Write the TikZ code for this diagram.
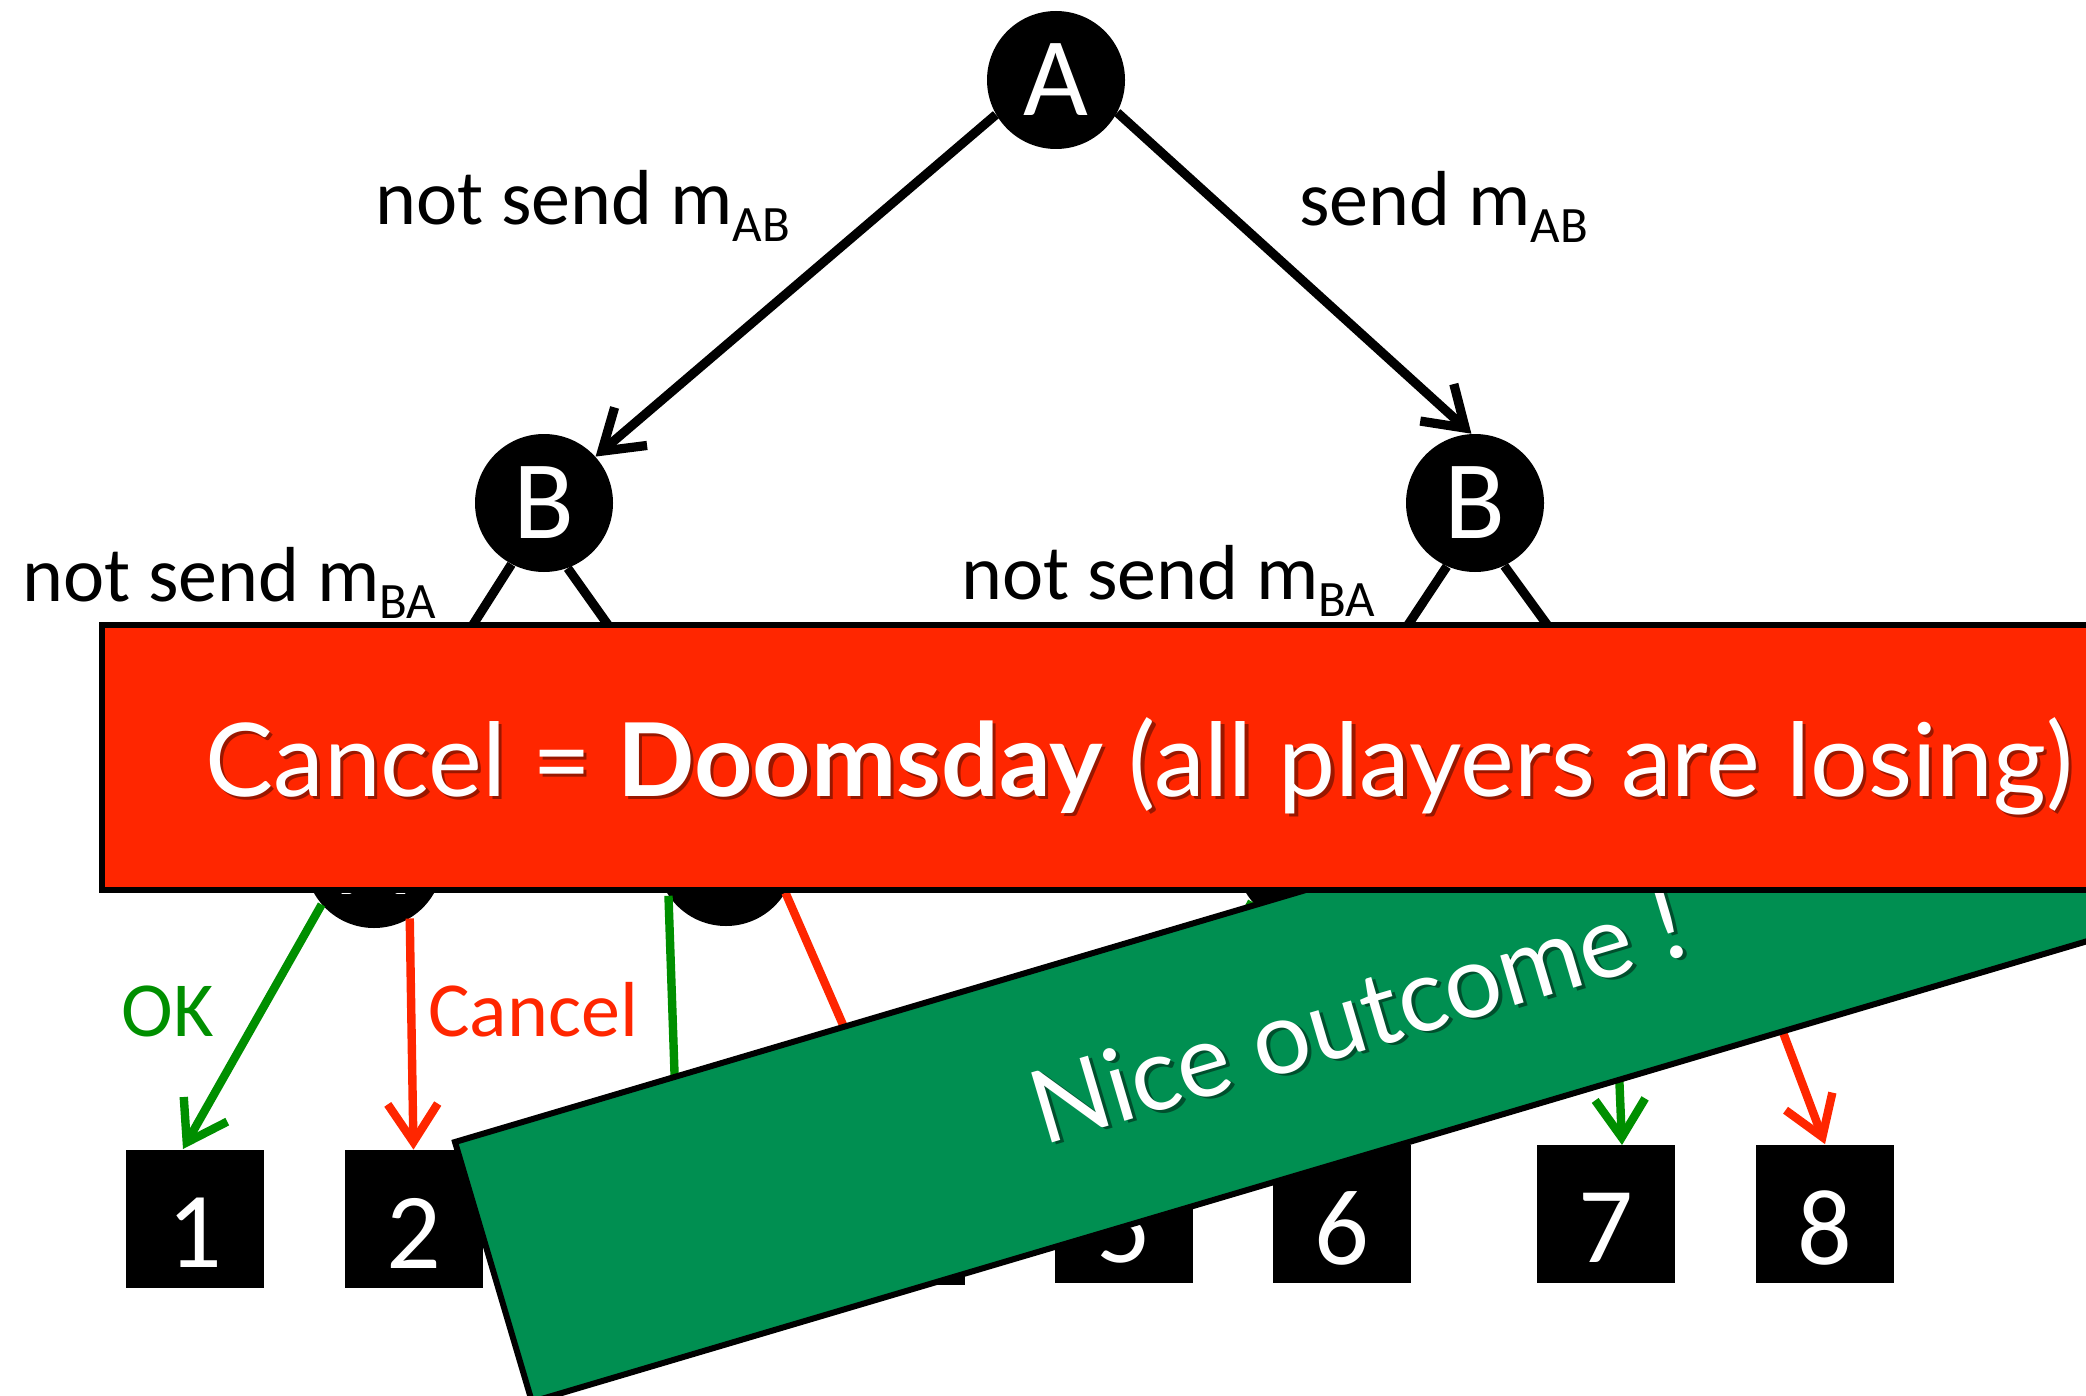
\documentclass[tikz,border=0pt]{standalone}
\usepackage{fontspec}
\setmainfont{Carlito}
\newfontfamily\bannerfont{Lato}
\usetikzlibrary{arrows.meta}

\definecolor{alarmred}{RGB}{255,38,0}
\definecolor{okgreen}{RGB}{0,143,0}
\definecolor{bannergreen}{RGB}{0,143,81}

% message name with a lowered subscript, as in m_AB
\newcommand\msgsub[1]{m\raisebox{-8.5pt}{\fontsize{25.5}{30}\selectfont #1}}
% banner lettering with a soft dark copy set slightly down and right
\newcommand\dropshadow[2]{\makebox[0pt][l]{\kern1.6pt\raisebox{-1.6pt}{\color{#1}#2}}#2}

\tikzset{
  gamenode/.style={circle, fill=black, text=white, inner sep=0pt,
    minimum size=69pt, font=\fontsize{56}{60}\selectfont},
  leafbox/.style={rectangle, fill=black, inner sep=0pt, minimum size=69pt},
  leafnum/.style={text=white, inner sep=0pt, font=\fontsize{54}{60}\selectfont},
  movelabel/.style={anchor=base west, inner sep=0pt, font=\fontsize{39}{47}\selectfont},
  gamemove/.style={draw=black, line width=4.6pt,
    -{Straight Barb[length=19pt,width=25pt]}},
  okmove/.style={gamemove, line width=4.2pt, draw=okgreen},
  cancelmove/.style={gamemove, line width=4.2pt, draw=alarmred},
  bannertext/.style={text=white, inner sep=0pt,
    font=\bannerfont\fontsize{50.9}{60}\selectfont},
}

\begin{document}
\begin{tikzpicture}[x=0.5pt,y=-0.5pt]
\useasboundingbox (0,0) rectangle (2086,1396);
\clip (0,0) rectangle (2086,1396);

% ---- game tree ----
\node[gamenode] (A)  at (1056,80)  {A};
\node[gamenode] (Bl) at (544,503)  {B};
\node[gamenode] (Br) at (1475,503) {B};
\node[gamenode] (L1) at (374,859)  {A};
\node[gamenode] (L2) at (726,857)  {A};
\node[gamenode] (R1) at (1305,857) {A};
\node[gamenode] (R2) at (1668,857) {A};

\node[leafbox] (b1) at (195,1219)    {};
\node[leafbox] (b2) at (413.5,1219)  {};
\node[leafbox] (b3) at (677,1216)    {};
\node[leafbox] (b4) at (896,1216)    {};
\node[leafbox] (b5) at (1123.5,1213.5) {};
\node[leafbox] (b6) at (1342,1213.5) {};
\node[leafbox] (b7) at (1606,1213.5) {};
\node[leafbox] (b8) at (1825,1213.5) {};

\node[leafnum] (n1) at (195,1233)    {1};
\node[leafnum] (n2) at (413.5,1233)  {2};
\node[leafnum] (n3) at (677,1230)    {3};
\node[leafnum] (n4) at (896,1230)    {4};
\node[leafnum] (n5) at (1123.5,1228) {5};
\node[leafnum] (n6) at (1342,1228)   {6};
\node[leafnum] (n7) at (1606,1228)   {7};
\node[leafnum] (n8) at (1825,1228)   {8};

\coordinate (t1) at (183,1149);
\coordinate (t7) at (1622,1145);

% moves of A
\draw[gamemove] (A.-150.5) -- (Bl.42.6);
\draw[gamemove] (A.-28.7)  -- (Br.93.4);
% moves of B
\draw[gamemove] (Bl.242.4) -- (L1.95);
\draw[gamemove] (Bl.290)   -- (L2.92);
\draw[gamemove] (Br.246.7) -- (R1.94);
\draw[gamemove] (Br.295.5) -- (R2.92);
% final moves of A
\draw[okmove]     (L1.221)   -- (t1);
\draw[cancelmove] (L1.-59.3) -- (b2.north);
\draw[okmove]     (L2.214)   -- (b3.north);
\draw[cancelmove] (L2.-31)   -- (b4.north);
\draw[okmove]     (R1.220)   -- (b5.north);
\draw[cancelmove] (R1.-45)   -- (b6.north);
\draw[okmove]     (R2.216)   -- (t7);
\draw[cancelmove] (R2.-28.8) -- (b8.north);

% move labels
\node[movelabel] (labAB)  at (375,225)  {not send \msgsub{AB}};
\node[movelabel] (labAB2) at (1299,226) {send \msgsub{AB}};
\node[movelabel] (labBA)  at (22,601)   {not send \msgsub{BA}};
\node[movelabel] (labBA2) at (961,599)  {not send \msgsub{BA}};
\node[movelabel, text=okgreen]  (labok)     at (121,1036) {OK};
\node[movelabel, text=alarmred] (labcancel) at (428,1036) {Cancel};

% ---- green banner ----
\begin{scope}[shift={(455,1142)}, rotate=16.5]
  \draw[fill=bannergreen, line width=3pt] (0,0) rectangle (1802,271);
  \node[bannertext, rotate=16.5] (nice) at (901,135.5)
    {\dropshadow{bannergreen!55!black}{Nice outcome !}};
\end{scope}

% ---- red banner ----
\draw[fill=alarmred, line width=3pt] (102,625) rectangle (2200,890);
\node[bannertext, anchor=base west] (doom) at (205,796)
  {\dropshadow{alarmred!60!black}{Cancel = \textbf{Doomsday} (all players are losing)}};
\end{tikzpicture}
\end{document}
